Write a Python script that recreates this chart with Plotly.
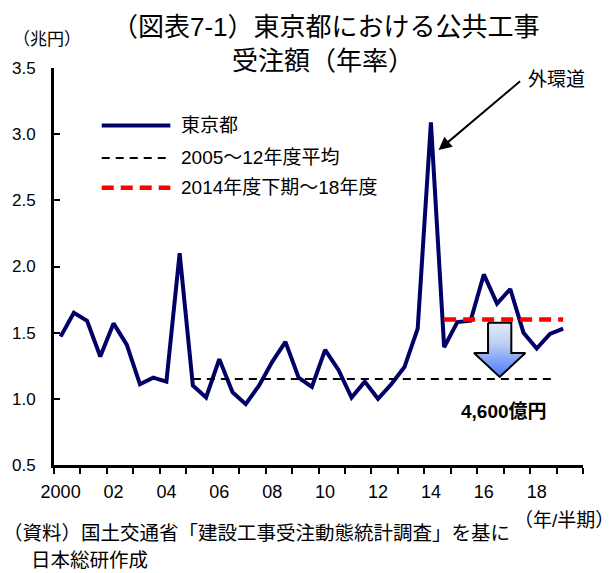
import plotly.graph_objects as go

# ---------------- data ----------------
start_year = 2000
tokyo = [1.47, 1.65, 1.59, 1.32, 1.57, 1.41, 1.11, 1.16, 1.13, 2.10,
         1.10, 1.01, 1.30, 1.05, 0.96, 1.10, 1.28, 1.43, 1.16, 1.09,
         1.37, 1.22, 1.01, 1.13, 1.00, 1.11, 1.24, 1.53, 3.09, 1.39,
         1.58, 1.59, 1.94, 1.72, 1.83, 1.50, 1.38, 1.49, 1.53]
half_x = [start_year + 0.25 + 0.5 * i for i in range(len(tokyo))]

avg_05_12 = 1.15
avg_05_12_span = [2005.25, 2019.0]
avg_14_18 = 1.60
avg_14_18_span = [2014.75, 2019.25]

tick_vals = [2000.25, 2002.25, 2004.25, 2006.25, 2008.25, 2010.25,
             2012.25, 2014.25, 2016.25, 2018.25]
tick_text = ["2000", "02", "04", "06", "08", "10", "12", "14", "16", "18"]
y_ticks = [0.5, 1.0, 1.5, 2.0, 2.5, 3.0, 3.5]

names = ["東京都", "2005～12年度平均", "2014年度下期～18年度"]

# ---------------- layout helpers ----------------
W, H = 616, 573
L, R, T, B = 51, 583, 67.5, 465
def px(x):
    return (x - L) / (R - L)
def py(y):
    return (B - y) / (B - T)

NAVY = "#000066"
JP = "Liberation Sans, Noto Sans CJK JP"

fig = go.Figure()

fig.add_trace(go.Scatter(x=half_x, y=tokyo, mode="lines", name=names[0],
                         line=dict(color=NAVY, width=4), showlegend=False))
fig.add_trace(go.Scatter(x=avg_05_12_span, y=[avg_05_12] * 2, mode="lines",
                         name=names[1], showlegend=False,
                         line=dict(color="black", width=2, dash="8px,6px")))
fig.add_trace(go.Scatter(x=avg_14_18_span, y=[avg_14_18] * 2, mode="lines",
                         name=names[2], showlegend=False,
                         line=dict(color="#ff0000", width=4.5, dash="12px,7px")))

# block arrow (decoration) between the two averages
cx, sw, hw = 2016.85, 0.44, 0.97
top = avg_14_18 - 0.026
tip = avg_05_12 + 0.016
head = tip + 0.18
fig.add_trace(go.Scatter(
    x=[cx - sw, cx + sw, cx + sw, cx + hw, cx, cx - hw, cx - sw, cx - sw],
    y=[top, top, head, head, tip, head, head, top],
    mode="lines", fill="toself", showlegend=False, hoverinfo="skip",
    line=dict(color="black", width=2),
    fillgradient=dict(type="vertical", start=top, stop=tip,
                      colorscale=[[0, "#e3eaf8"], [0.35, "#c3d2f3"],
                                  [1, "#4a78fb"]])))

annotations = [
    dict(text="（図表7-1）東京都における公共工事", x=px(325), y=py(26)),
    dict(text="受注額（年率）", x=px(322), y=py(60)),
]
for a in annotations:
    a.update(xref="paper", yref="paper", showarrow=False, xanchor="center",
             yanchor="middle", font=dict(family=JP, size=26, color="black"))

annotations += [
    dict(text="（兆円）", x=px(8), y=py(39), xanchor="left", yanchor="middle",
         font=dict(family=JP, size=17, color="black")),
    dict(text="外環道", x=px(526), y=py(79), xanchor="left", yanchor="middle",
         font=dict(family=JP, size=19, color="black")),
    dict(text="<b>4,600億円</b>", x=px(504), y=py(411), xanchor="center",
         yanchor="middle", font=dict(family=JP, size=19, color="black")),
    dict(text="（年/半期）", x=px(616), y=py(521), xanchor="right",
         yanchor="middle", font=dict(family=JP, size=19, color="black")),
    dict(text="（資料）国土交通省「建設工事受注動態統計調査」を基に", x=px(-2),
         y=py(533), xanchor="left", yanchor="middle",
         font=dict(family=JP, size=19.5, color="black")),
    dict(text="日本総研作成", x=px(26), y=py(560), xanchor="left",
         yanchor="middle", font=dict(family=JP, size=19.5, color="black")),
]
for a in annotations[2:]:
    a.update(xref="paper", yref="paper", showarrow=False)

# 外環道 arrow
annotations.append(dict(x=2014.54, y=2.88, xref="x", yref="y", text="",
                        showarrow=True, ax=83, ay=-70, arrowhead=2,
                        arrowsize=1.3, arrowwidth=2, arrowcolor="black",
                        standoff=0))

# custom legend
shapes = []
leg_rows = [(125, dict(color=NAVY, width=4)),
            (157.5, dict(color="black", width=2, dash="8px,6px")),
            (187.5, dict(color="#ff0000", width=4.5, dash="12px,7px"))]
for (yy, ln), nm in zip(leg_rows, names):
    shapes.append(dict(type="line", xref="paper", yref="paper",
                       x0=px(99), x1=px(168), y0=py(yy), y1=py(yy), line=ln))
    annotations.append(dict(text=nm, x=px(177), y=py(yy), xref="paper",
                            yref="paper", xanchor="left", yanchor="middle",
                            showarrow=False,
                            font=dict(family=JP, size=19, color="black")))

fig.update_layout(
    width=W, height=H, margin=dict(l=L, r=W - R, t=T, b=H - B),
    paper_bgcolor="white", plot_bgcolor="white",
    annotations=annotations, shapes=shapes, showlegend=False,
    font=dict(family=JP, color="black"),
)
fig.update_xaxes(range=[2000, 2020], tickmode="array", tickvals=tick_vals,
                 ticktext=tick_text, ticks="", showgrid=False, zeroline=False,
                 showline=True, linecolor="black", linewidth=3,
                 ticklabelstandoff=8,
                 tickfont=dict(family="Liberation Sans", size=18, color="black"),
                 minor=dict(tick0=2000, dtick=1, ticks="outside", ticklen=6,
                            tickwidth=2, tickcolor="black", showgrid=False))
fig.update_yaxes(range=[0.5, 3.5], tickmode="array", tickvals=y_ticks,
                 ticktext=[f"{v:.1f}" for v in y_ticks], ticks="inside",
                 ticklen=6, tickwidth=2, tickcolor="black", showgrid=False,
                 zeroline=False, showline=True, linecolor="black", linewidth=3,
                 ticklabelstandoff=12,
                 tickfont=dict(family="Liberation Sans", size=17, color="black"))

fig.write_html("out.html")
